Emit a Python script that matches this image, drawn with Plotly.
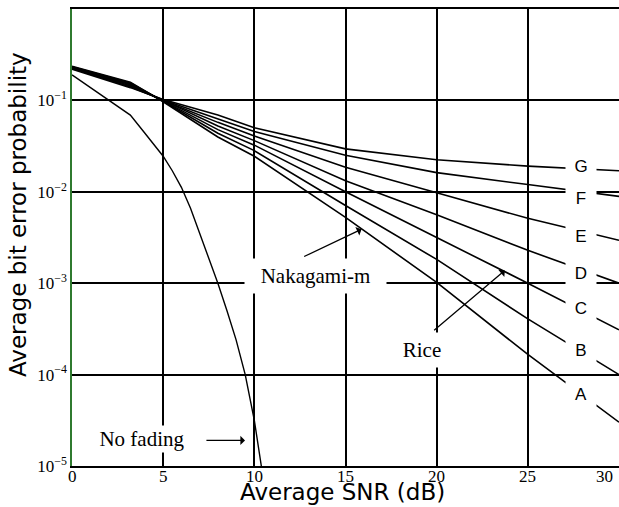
import plotly.graph_objects as go

# ---- data ----
snr_db = [0, 3.2, 5, 8, 10, 15, 20, 25, 30]
curve_A = [0.237, 0.158, 0.0966, 0.0398, 0.0245, 0.00525, 0.00102, 1.66e-4, 3.02e-5]
curve_B = [0.234, 0.155, 0.0977, 0.0437, 0.0282, 0.00708, 0.00182, 4.07e-4, 1.0e-4]
curve_C = [0.232, 0.151, 0.0989, 0.0479, 0.0324, 0.0100, 0.00316, 1.0e-3, 3.09e-4]
curve_D = [0.229, 0.148, 0.100, 0.0525, 0.0363, 0.0132, 0.00562, 0.00229, 1.0e-3]
curve_E = [0.226, 0.145, 0.100, 0.0575, 0.0407, 0.0186, 0.00977, 0.00513, 0.00295]
curve_F = [0.224, 0.141, 0.101, 0.0631, 0.0457, 0.0251, 0.0162, 0.0120, 0.00891]
curve_G = [0.219, 0.138, 0.102, 0.0692, 0.0501, 0.0295, 0.0224, 0.0191, 0.0170]

nofade_db = [0, 3.2, 4, 5, 5.5, 6, 6.5, 7, 7.5, 8, 8.5, 9, 9.5, 10, 10.4, 10.6]
nofade_pb = [0.19, 0.069, 0.0437, 0.0245, 0.017, 0.0112, 0.0066, 0.00355, 0.0019,
             1.0e-3, 5.0e-4, 2.4e-4, 1.0e-4, 3.16e-5, 9.5e-6, 5.0e-6]

curve_names = ["A", "B", "C", "D", "E", "F", "G"]
# label centres (dB, log10 Pb)
label_x = [27.9] * 7
label_logy = [-4.21, -3.73, -3.275, -2.89, -2.48, -2.069, -1.715]

x_tickvals = [0, 5, 10, 15, 20, 25, 30]
x_ticktext = ["0", "5", "10", "15", "20", "25", "30"]
y_tickvals = [1, 1e-1, 1e-2, 1e-3, 1e-4, 1e-5]
y_ticktext = ["10<sup>0</sup>", "10<sup>\u22121</sup>", "10<sup>\u22122</sup>",
              "10<sup>\u22123</sup>", "10<sup>\u22124</sup>", "10<sup>\u22125</sup>"]

SERIF = "Liberation Serif"
SANS = "DejaVu Sans"

fig = go.Figure()
for ys in [curve_A, curve_B, curve_C, curve_D, curve_E, curve_F, curve_G]:
    fig.add_trace(go.Scatter(x=snr_db, y=ys, mode="lines",
                             line=dict(color="black", width=1.6),
                             showlegend=False, hoverinfo="skip"))
fig.add_trace(go.Scatter(x=nofade_db, y=nofade_pb, mode="lines",
                         line=dict(color="black", width=1.4),
                         showlegend=False, hoverinfo="skip"))

ann = []
for name, lx, ly in zip(curve_names, label_x, label_logy):
    ann.append(dict(x=lx, y=ly, xref="x", yref="y", text=name, showarrow=False,
                    font=dict(family="Liberation Sans", size=17, color="black"),
                    bgcolor="white", width=30, height=24, borderpad=0))

# x tick labels (placed close to the axis like the reference; last one kept inside canvas)
for v, t in zip(x_tickvals, x_ticktext):
    a = dict(x=v, y=0, xref="x", yref="paper", text=t, showarrow=False,
             yanchor="top", yshift=1, font=dict(family=SERIF, size=17, color="black"))
    if v == x_tickvals[-1]:
        a.update(xanchor="right", xshift=-4)
    ann.append(a)

ann += [
    dict(x=13.34, y=-2.92, xref="x", yref="y", text="Nakagami-m", showarrow=False,
         font=dict(family=SERIF, size=21, color="black"),
         bgcolor="white", width=141, height=34, borderpad=0),
    dict(x=19.17, y=-3.73, xref="x", yref="y", text="Rice", showarrow=False,
         font=dict(family=SERIF, size=21, color="black"),
         bgcolor="white", width=48, height=34, borderpad=0),
    dict(x=3.82, y=-4.70, xref="x", yref="y", text="No fading", showarrow=False,
         font=dict(family=SERIF, size=21, color="black"),
         bgcolor="white", width=100, height=26, borderpad=0),
    # arrows
    dict(x=15.88, y=-2.41, ax=12.65, ay=-2.716, xref="x", yref="y", axref="x", ayref="y",
         text="", showarrow=True, arrowhead=1, arrowsize=1.2, arrowwidth=1.3, arrowcolor="black"),
    dict(x=23.74, y=-2.86, ax=19.78, ay=-3.53, xref="x", yref="y", axref="x", ayref="y",
         text="", showarrow=True, arrowhead=1, arrowsize=1.2, arrowwidth=1.3, arrowcolor="black"),
    dict(x=9.49, y=-4.72, ax=7.29, ay=-4.72, xref="x", yref="y", axref="x", ayref="y",
         text="", showarrow=True, arrowhead=1, arrowsize=1.2, arrowwidth=1.3, arrowcolor="black"),
    # axis titles
    dict(x=0.495, y=-0.057, xref="paper", yref="paper", text="Average SNR (dB)",
         showarrow=False, yanchor="middle", font=dict(family=SANS, size=23, color="black")),
    dict(x=-0.0987, y=0.549, xref="paper", yref="paper", text="Average bit error probability",
         showarrow=False, textangle=-90, xanchor="center", yanchor="middle",
         font=dict(family=SANS, size=23, color="black")),
]

fig.update_layout(
    width=619, height=507,
    margin=dict(l=72, r=0, t=9, b=41),
    paper_bgcolor="white", plot_bgcolor="white",
    annotations=ann,
    showlegend=False,
)
fig.update_xaxes(range=[0, 30], tickvals=x_tickvals[:-1],
                 showgrid=True, gridcolor="black", gridwidth=2,
                 showline=True, linecolor="black", linewidth=2, mirror=True,
                 ticks="", zeroline=False, showticklabels=False)
fig.update_yaxes(type="log", range=[-5, 0], tickvals=y_tickvals, ticktext=y_ticktext,
                 showgrid=True, gridcolor="black", gridwidth=2,
                 showline=True, linecolor="#2f7a2f", linewidth=1.5,
                 ticks="", zeroline=False,
                 tickfont=dict(family=SERIF, size=17, color="black"))

fig.write_html("out.html", config={"displayModeBar": False},
               post_script="document.body.style.margin='0';document.body.style.overflow='hidden';")
